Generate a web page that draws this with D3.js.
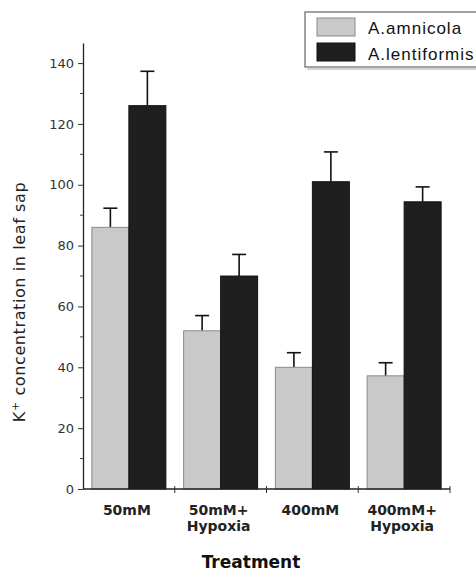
<!DOCTYPE html>
<html>
<head>
<meta charset="utf-8">
<script src="https://cdn.jsdelivr.net/npm/d3@7"></script>
<style>
  body { margin: 0; background: #fff; }
  svg { display: block; font-family: "Liberation Sans", Arial, sans-serif; }
</style>
</head>
<body>
<div id="chart"></div>
<script>
// values
var treatments = ["50mM", "50mM+\nHypoxia", "400mM", "400mM+\nHypoxia"]
var species = ["A.amnicola", "A.lentiformis"]
var amnicola = [86, 52, 40, 37.2]
var amnicolaErr = [6.3, 5, 4.8, 4.3]
var lentiformis = [126, 70, 101, 94.4]
var lentiformisErr = [11.3, 7.1, 9.8, 4.9]
var yTicks = [0, 20, 40, 60, 80, 100, 120, 140]
var yMinor = [10, 30, 50, 70, 90, 110, 130]

var W = 476, H = 573
var wide = "'DejaVu Sans', Verdana, sans-serif"
var fills = { "A.amnicola": "#c9c9c9", "A.lentiformis": "#1f1f1f" }
var strokes = { "A.amnicola": "#8a8a8a", "A.lentiformis": "#111" }

var svg = d3.select("#chart").append("svg").attr("width", W).attr("height", H)

var x = d3.scaleBand().domain(treatments).range([83, 450]).paddingInner(0).paddingOuter(0)
var xSub = d3.scaleBand().domain(species).range([0, x.bandwidth()]).paddingInner(0).paddingOuter(0.24)
var y = d3.scaleLinear().domain([0, 146.6]).range([489, 43])

var rows = []
treatments.forEach(function (t, i) {
    rows.push({ t: t, s: species[0], v: amnicola[i], e: amnicolaErr[i] })
    rows.push({ t: t, s: species[1], v: lentiformis[i], e: lentiformisErr[i] })
})

// error bars (upper only), drawn first so bars cover the stem base
var eb = svg.append("g").attr("stroke", "#111").attr("stroke-width", 1.6)
rows.forEach(function (d) {
    var cx = x(d.t) + xSub(d.s) + xSub.bandwidth() / 2
    eb.append("line").attr("x1", cx).attr("x2", cx).attr("y1", y(d.v)).attr("y2", y(d.v + d.e))
    eb.append("line").attr("x1", cx - 7).attr("x2", cx + 7).attr("y1", y(d.v + d.e)).attr("y2", y(d.v + d.e))
})

svg.append("g").selectAll("rect").data(rows).enter().append("rect")
    .attr("x", function (d) { return x(d.t) + xSub(d.s) })
    .attr("y", function (d) { return y(d.v) })
    .attr("width", xSub.bandwidth())
    .attr("height", function (d) { return y(0) - y(d.v) })
    .attr("fill", function (d) { return fills[d.s] })
    .attr("stroke", function (d) { return strokes[d.s] })
    .attr("stroke-width", 1)

// y axis
var yAxis = svg.append("g").attr("transform", "translate(83,0)")
    .call(d3.axisLeft(y).tickValues(yTicks).tickSize(5).tickSizeOuter(0))
yAxis.select(".domain").attr("stroke", "#222").attr("stroke-width", 1.3)
yAxis.selectAll(".tick line").attr("stroke", "#333")
yAxis.selectAll("text").attr("font-size", 13).attr("fill", "#333").attr("x", -9)
    .attr("font-family", wide)
yAxis.append("g").selectAll("line").data(yMinor).enter().append("line")
    .attr("x1", -3).attr("x2", 0)
    .attr("y1", function (d) { return y(d) }).attr("y2", function (d) { return y(d) })
    .attr("stroke", "#444")

// x axis
var xa = svg.append("g")
xa.append("line").attr("x1", 83).attr("x2", 450).attr("y1", y(0)).attr("y2", y(0))
    .attr("stroke", "#222").attr("stroke-width", 1.3)
xa.selectAll(".xt").data(treatments).enter().append("line")
    .attr("x1", function (d) { return x(d) + x.bandwidth() }).attr("x2", function (d) { return x(d) + x.bandwidth() })
    .attr("y1", y(0) - 3).attr("y2", y(0) + 4).attr("stroke", "#333")
var lbl = xa.selectAll(".xl").data(treatments).enter().append("text")
    .attr("text-anchor", "middle").attr("font-size", 14).attr("font-weight", "bold").attr("fill", "#222")
    .attr("font-family", wide)
    .attr("transform", function (d) { return "translate(" + (x(d) + x.bandwidth() / 2 - 2) + ",515)" })
lbl.selectAll("tspan").data(function (d) { return d.split("\n") }).enter().append("tspan")
    .attr("x", 0).attr("dy", function (d, i) { return i ? 16 : 0 }).text(function (d) { return d })

svg.append("text").attr("x", 251).attr("y", 568).attr("text-anchor", "middle")
    .attr("font-size", 17).attr("font-weight", "bold").attr("fill", "#111")
    .attr("font-family", wide).text("Treatment")

var yl = svg.append("text").attr("transform", "translate(25,302) rotate(-90)")
    .attr("text-anchor", "middle").attr("font-size", 16).attr("fill", "#222")
    .attr("font-family", wide).attr("letter-spacing", 0.6)
yl.append("tspan").text("K")
yl.append("tspan").attr("dy", -6).attr("font-size", 11).text("+")
yl.append("tspan").attr("dy", 6).text(" concentration in leaf sap")

// legend
var lg = svg.append("g")
lg.append("rect").attr("x", 305).attr("y", 12).attr("width", 176).attr("height", 55)
    .attr("fill", "#fff").attr("stroke", "#666").attr("stroke-width", 1.2)
lg.append("line").attr("x1", 307).attr("x2", 476).attr("y1", 69).attr("y2", 69).attr("stroke", "#aaa")
species.forEach(function (s, i) {
    lg.append("rect").attr("x", 317).attr("y", 18 + i * 25).attr("width", 38).attr("height", 18)
        .attr("fill", fills[s]).attr("stroke", strokes[s])
    lg.append("text").attr("x", 368).attr("y", 34 + i * 26).attr("font-size", 17).attr("fill", "#111")
        .attr("letter-spacing", 1).text(s)
})
</script>
</body>
</html>
